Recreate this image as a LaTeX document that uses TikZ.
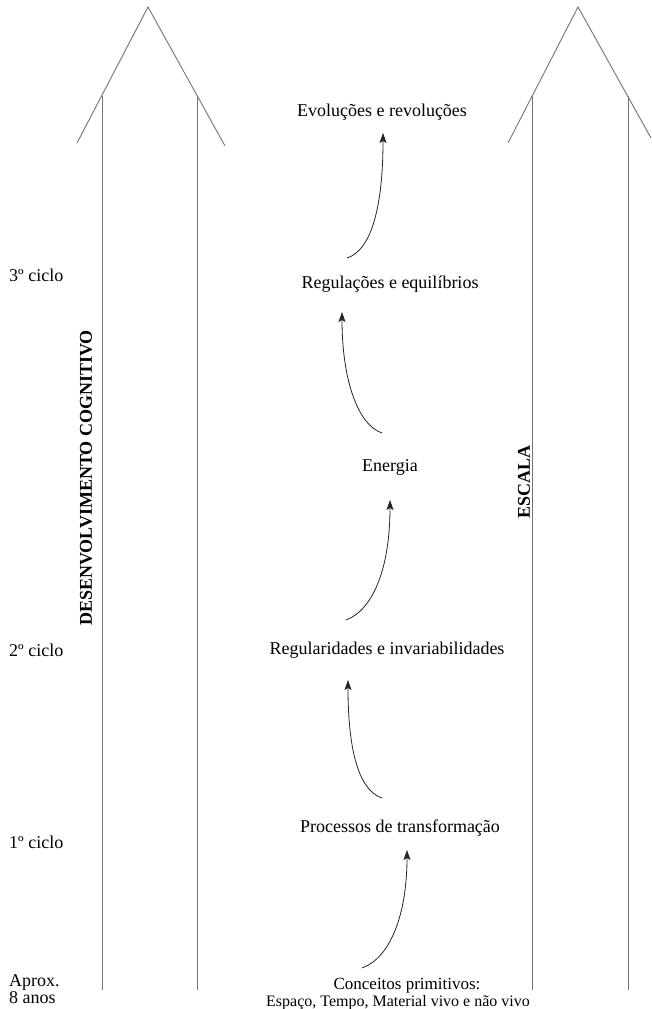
\documentclass[tikz,border=0pt]{standalone}
\usepackage{fontspec}
\setmainfont{Liberation Serif}
\usetikzlibrary{arrows.meta}
\tikzset{
  lbl/.style={anchor=base, inner sep=0pt, font=\fontsize{18}{21}\selectfont},
  side/.style={anchor=base west, inner sep=0pt, font=\fontsize{18}{21}\selectfont},
  vlbl/.style={rotate=90, inner sep=0pt, font=\fontsize{18}{21}\selectfont\bfseries},
  bigarrow/.style={draw=black!55, line width=0.9pt},
  flow/.style={draw=black!85, line width=0.8pt, -{Stealth[length=10pt,width=7pt,inset=2pt]}}
}
\begin{document}
\begin{tikzpicture}[x=1pt,y=-1pt]
\useasboundingbox (0,0) rectangle (651,1009);
% big arrows
\draw[bigarrow] (77,143) -- (148,7) -- (225,146);
\draw[bigarrow] (102,96) -- (102,990);
\draw[bigarrow] (197,96) -- (197,990);
\draw[bigarrow] (508,143) -- (578,7) -- (651,138);
\draw[bigarrow] (532,96) -- (532,990);
\draw[bigarrow] (628,96) -- (628,990);
% vertical labels
\node[vlbl] (dc) at (86,478) {DESENVOLVIMENTO COGNITIVO};
\node[vlbl] (esc) at (524,482) {ESCALA};
% side labels
\node[side] (c3) at (9,281) {3º ciclo};
\node[side] (c2) at (9,656) {2º ciclo};
\node[side] (c1) at (9,848) {1º ciclo};
\node[side] (ap) at (9,986) {Aprox.};
\node[side] (an) at (9,1003) {8 anos};
% central labels
\node[lbl] (evo) at (382,116) {Evoluções e revoluções};
\node[lbl] (reg) at (390,288) {Regulações e equilíbrios};
\node[lbl] (ene) at (390,471) {Energia};
\node[lbl] (rin) at (387,654) {Regularidades e invariabilidades};
\node[lbl] (pro) at (400,832) {Processos de transformação};
\node[lbl, font=\fontsize{17}{20}\selectfont] (con) at (407,989) {Conceitos primitivos:};
\node[lbl, font=\fontsize{16}{19}\selectfont] (esp) at (398,1006) {Espaço, Tempo, Material vivo e não vivo};
% arrow end points
\coordinate (a1s) at (347,258); \coordinate (a1e) at (383,133);
\coordinate (a2s) at (382,433); \coordinate (a2e) at (342,312);
\coordinate (a3s) at (346,620); \coordinate (a3e) at (390,500);
\coordinate (a4s) at (382,798); \coordinate (a4e) at (348,680);
\coordinate (a5s) at (362,968); \coordinate (a5e) at (407,850);
\draw[flow] (a1s) .. controls (372,250) and (383,205) .. (a1e);
\draw[flow] (a2s) .. controls (358,425) and (342,380) .. (a2e);
\draw[flow] (a3s) .. controls (373,610) and (390,568) .. (a3e);
\draw[flow] (a4s) .. controls (358,790) and (348,748) .. (a4e);
\draw[flow] (a5s) .. controls (390,958) and (407,915) .. (a5e);
\end{tikzpicture}
\end{document}
